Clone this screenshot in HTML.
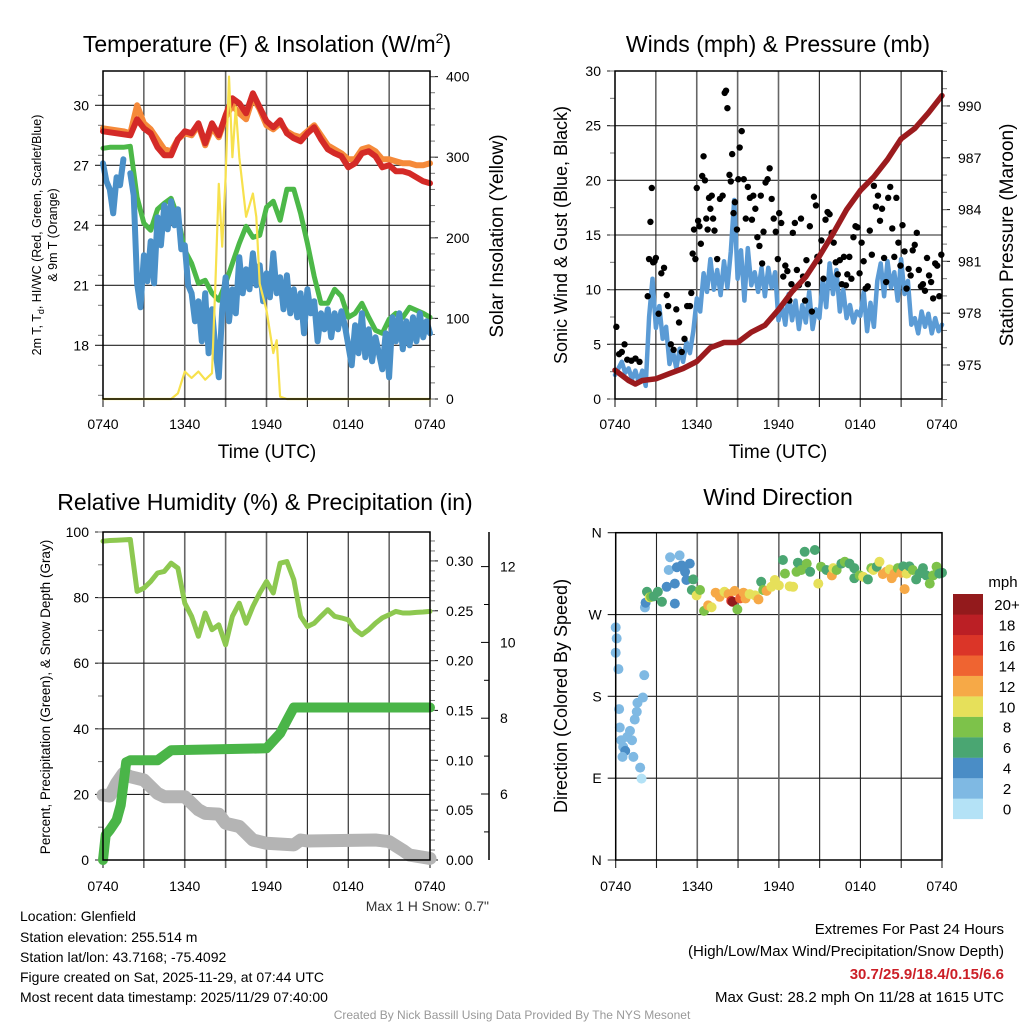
<!DOCTYPE html>
<html><head><meta charset="utf-8"><style>
html,body{margin:0;padding:0;background:#fff;}
svg{display:block;font-family:"Liberation Sans",Arial,sans-serif;}
</style></head><body>
<svg id="chart" width="1024" height="1024" viewBox="0 0 1024 1024" xmlns="http://www.w3.org/2000/svg">
<rect x="0" y="0" width="1024" height="1024" fill="#fff"/>
<text x="267" y="52" font-size="23" text-anchor="middle">Temperature (F) &amp; Insolation (W/m<tspan font-size="14" dy="-9">2</tspan><tspan dy="9">)</tspan></text>
<text x="778" y="52" font-size="23" text-anchor="middle">Winds (mph) &amp; Pressure (mb)</text>
<text x="265" y="510" font-size="23" text-anchor="middle">Relative Humidity (%) &amp; Precipitation (in)</text>
<text x="778" y="505" font-size="23" text-anchor="middle">Wind Direction</text>
<text x="267" y="458" font-size="19" text-anchor="middle">Time (UTC)</text>
<text x="778" y="458" font-size="19" text-anchor="middle">Time (UTC)</text>
<text transform="translate(41,235) rotate(-90)" font-size="12.5" text-anchor="middle">2m T, T<tspan font-size="9" dy="3">d</tspan><tspan dy="-3">, HI/WC (Red, Green, Scarlet/Blue)</tspan></text>
<text transform="translate(57,235) rotate(-90)" font-size="12.5" text-anchor="middle">&amp; 9m T (Orange)</text>
<text transform="translate(503,236) rotate(-90)" font-size="19" text-anchor="middle">Solar Insolation (Yellow)</text>
<text transform="translate(567,235) rotate(-90)" font-size="18" text-anchor="middle">Sonic Wind &amp; Gust (Blue, Black)</text>
<text transform="translate(1013,235) rotate(-90)" font-size="19" text-anchor="middle">Station Pressure (Maroon)</text>
<text transform="translate(50,697) rotate(-90)" font-size="13.5" text-anchor="middle">Percent, Precipitation (Green), &amp; Snow Depth (Gray)</text>
<text transform="translate(567,696) rotate(-90)" font-size="18" text-anchor="middle">Direction (Colored By Speed)</text>
<text x="489" y="911" font-size="14" text-anchor="end" fill="#333">Max 1 H Snow: 0.7"</text>
<g font-size="14">
<text x="20" y="921">Location: Glenfield</text>
<text x="20" y="942">Station elevation: 255.514 m</text>
<text x="20" y="962">Station lat/lon: 43.7168; -75.4092</text>
<text x="20" y="982">Figure created on Sat, 2025-11-29, at 07:44 UTC</text>
<text x="20" y="1002">Most recent data timestamp: 2025/11/29 07:40:00</text>
</g>
<g font-size="15" text-anchor="end">
<text x="1004" y="934">Extremes For Past 24 Hours</text>
<text x="1004" y="956">(High/Low/Max Wind/Precipitation/Snow Depth)</text>
<text x="1004" y="979" fill="#cc1f27" font-weight="bold">30.7/25.9/18.4/0.15/6.6</text>
<text x="1004" y="1002">Max Gust: 28.2 mph On 11/28 at 1615 UTC</text>
</g>
<text x="512" y="1019" font-size="12" fill="#999" text-anchor="middle">Created By Nick Bassill Using Data Provided By The NYS Mesonet</text>
</svg>
<script>
// ---------- DATA ----------
const timeLabels = ["0740","1340","1940","0140","0740"];
const halfHours = [0,0.5,1,1.5,2,2.5,3,3.5,4,4.5,5,5.5,6,6.5,7,7.5,8,8.5,9,9.5,10,10.5,11,11.5,12,12.5,13,13.5,14,14.5,15,15.5,16,16.5,17,17.5,18,18.5,19,19.5,20,20.5,21,21.5,22,22.5,23,23.5,24];
const quarterHours = Array.from({length:97},(_,i)=>i/4);
const temp2m = [28.7,28.65,28.6,28.55,28.5,29.3,28.85,28.6,27.9,27.5,27.5,28.3,28.7,28.6,29.1,28.1,29.1,28.5,29.5,30.35,30.1,29.6,30.6,29.9,29.2,28.9,29.25,28.6,28.35,28.2,28.6,28.9,28.3,27.8,27.6,27.45,26.9,27.1,27.6,27.7,27.45,26.9,27.0,26.7,26.7,26.6,26.4,26.2,26.1];
const temp9m = [28.85,28.8,28.75,28.7,28.6,30.0,29.1,28.8,28.3,27.8,27.7,28.3,28.6,28.5,29.0,28.0,28.9,28.4,29.4,30.0,29.6,29.3,30.4,29.8,29.0,28.8,29.1,28.7,28.5,28.4,28.7,29.0,28.5,28.0,27.8,27.6,27.3,27.3,27.8,27.9,27.7,27.3,27.3,27.2,27.1,27.1,27.0,27.0,27.1];
const dewpoint = [27.85,27.9,27.9,27.9,27.95,25.4,24.1,23.75,24.8,25.1,25.35,24.4,22.75,22.1,21.1,21.25,20.6,20.25,21.1,22.1,23.1,23.95,23.4,23.5,24.9,25.2,24.25,25.8,25.8,24.6,23.1,21.45,20.1,20.1,20.8,20.45,19.4,19.6,20.1,19.4,18.75,18.6,19.3,19.6,19.4,19.9,19.75,19.6,19.4];
const windChill = [27.1,26.2,25.8,24.6, 26.4,26.0,27.3,null, 26.6,25.5,21.1,19.9, 22.5,21.2,23.2,21.1, 24.4,23.0,25.0,23.8, 25.2,24.0,24.8,22.8, 23.0,21.0,20.6,19.2, 20.2,18.2,20.6,17.6, 19.8,17.8,16.4,19.8, 21.4,19.2,20.8,19.6, 22.4,20.6,21.8,20.8, 22.6,21.0,22.0,20.2, 21.6,20.4,22.6,20.6, 21.4,19.8,21.5,19.6, 20.8,19.4,20.6,18.6, 20.8,19.6,20.2,18.2, 19.6,18.8,19.8,18.4, 19.6,18.8,19.7,19.0, 18.0,17.0,19.0,17.6, 19.6,17.4,18.8,17.2, 18.4,17.6,16.8,18.6, 16.4,19.4,18.2,19.6, 17.8,19.2,18.0,19.4, 18.2,19.6,18.4,19.2, 18.6];
const solarTimes = [0,5,5.5,6,6.5,7,7.5,8,8.25,8.5,8.75,9,9.25,9.5,9.75,10,10.5,11,11.25,11.5,12,12.5,12.75,13,13.5,24];
const solarValues = [0,0,7,34,26,34,24,32,143,267,189,275,400,300,362,300,226,255,226,143,110,57,73,3,0,0];

const windSpeed = [2.2,2.8,3.4,2.4, 2.8,1.8,2.6,1.5, 2.6,1.2,7.5,11.0, 6.5,8.5,5.5,6.6, 3.2,4.4,2.8,4.6, 3.4,5.2,4.2,6.2, 9.2,8.0,11.5,9.8, 12.8,10.0,11.8,9.5, 12.6,10.2,13.5,18.2, 11.0,13.6,9.0,13.8, 10.4,11.6,9.8,12.0, 9.4,12.0,10.2,11.6, 7.2,8.6,6.8,9.6, 7.2,9.0,6.4,8.6, 7.0,9.8,6.4,8.2, 7.4,11.0,8.4,12.4, 9.6,11.8,8.0,10.0, 7.4,8.6,7.0,8.0, 7.6,9.8,6.2,8.8, 6.6,10.8,12.4,9.4, 12.6,10.2,11.6,9.0, 12.8,9.6,10.8,6.8, 7.4,6.0,8.0,6.6, 7.8,6.0,7.4,6.2, 6.8];
const gustTimes = [0.1,0.3,0.5,0.7,0.9,1.2,1.5,1.8,2.4,2.5,2.6,2.7,2.8,2.9,3.0,3.2,3.4,3.6,3.8,3.9,4.1,4.3,4.5,4.7,4.9,5.1,5.3,5.5,5.6,5.7,5.8,5.9,6.0,6.1,6.2,6.3,6.4,6.5,6.6,6.7,6.8,6.9,7.0,7.1,7.2,7.3,7.5,7.7,7.9,8.05,8.15,8.25,8.4,8.5,8.6,8.7,8.8,8.95,9.05,9.15,9.3,9.45,9.6,9.75,9.9,10.05,10.15,10.3,10.45,10.6,10.7,10.8,10.9,11.05,11.2,11.35,11.5,11.65,11.8,11.95,12.05,12.2,12.35,12.5,12.65,12.8,12.95,13.05,13.2,13.35,13.5,13.65,13.8,13.95,14.05,14.15,14.3,14.45,14.6,14.75,14.85,15.0,15.15,15.3,15.45,15.6,15.75,15.9,16.05,16.2,16.35,16.5,16.65,16.8,16.95,17.05,17.2,17.35,17.5,17.65,17.8,17.95,18.1,18.25,18.4,18.55,18.7,18.85,19.0,19.15,19.3,19.45,19.6,19.75,19.9,20.05,20.2,20.35,20.5,20.65,20.8,20.95,21.1,21.25,21.4,21.55,21.7,21.85,22.0,22.15,22.3,22.45,22.6,22.75,22.9,23.05,23.2,23.35,23.5,23.65,23.8,23.95];
const gustValues = [6.6,4.1,4.3,5.0,3.6,3.5,3.7,3.4,9.4,12.8,16.2,19.3,12.5,12.6,12.9,7.8,11.5,12.0,9.5,8.5,5.0,4.5,8.2,7.0,4.3,5.5,8.5,8.5,9.7,13.3,15.5,12.8,19.3,16.3,15.8,14.2,20.4,22.2,20.0,16.5,15.5,18.4,17.4,18.6,16.5,15.4,12.8,18.3,18.6,28.0,28.2,26.6,20.5,19.9,22.4,17.0,18.0,15.5,20.1,23.0,24.5,20.1,16.5,19.4,18.4,16.4,18.6,17.4,14.8,14.0,18.6,12.4,15.3,19.8,20.1,21.1,18.3,16.5,15.3,12.8,17.0,16.1,11.2,12.2,11.7,9.0,10.5,15.2,16.1,11.8,10.4,16.5,11.2,9.0,12.7,10.5,15.8,8.0,18.5,17.7,13.0,12.6,14.5,11.0,16.4,17.1,16.9,15.2,14.3,12.5,11.4,12.7,10.5,13.0,10.4,11.4,13.0,11.0,14.8,15.8,15.7,11.5,14.3,12.6,10.1,10.3,15.4,13.2,19.5,17.6,18.6,16.3,17.4,12.9,10.7,18.4,19.4,15.6,13.0,18.4,14.3,12.2,15.9,13.5,10.1,11.9,11.3,13.6,14.1,15.2,11.8,10.3,10.5,9.9,12.9,11.3,10.7,9.2,12.4,12.2,9.4,13.2,10.0,11.0,9.9];
const pressTimes = [0,1,1.5,2,3,4,5,6,7,8,9,10,11,12,13,14,15,16,17,18,19,20,21,22,23,24];
const pressValues = [974.7,974.1,973.9,974.1,974.2,974.5,974.8,975.2,976.0,976.3,976.3,976.9,977.3,978.2,979.25,980.1,981.3,982.6,984.0,985.1,985.9,986.9,988.1,988.7,989.6,990.6];

const rhValues = [97.2,97.4,97.5,97.6,97.7,81.9,82.9,84.9,87.5,88.0,90.5,89.0,78.3,74.3,68.2,75.3,70.2,71.7,65.6,74.3,78.3,72.2,77.3,81.4,84.9,81.4,90.5,91.0,85.5,74.3,71.2,72.2,74.3,76.3,74.3,73.8,73.2,70.2,68.7,70.2,72.2,73.8,74.8,75.8,75.3,75.3,75.5,75.6,75.8];
const precipTimes = [0,0.1,0.2,0.5,1.0,1.3,1.7,2,3,4,4.5,5,12,13,13.5,14,24];
const precipValues = [0,0.013,0.025,0.03,0.04,0.055,0.098,0.1,0.1,0.1,0.105,0.11,0.112,0.127,0.14,0.153,0.153];
const snowTimes = [0,0.5,1,1.5,2,3,4,4.5,6,7,7.5,8.5,9,10,11,12,14,14.5,15,20,21,22,22.5,24];
const snowValues = [19.8,19.5,23.4,26.4,25.4,24.4,20.3,19.3,19.3,15.3,14.2,14.0,11.2,10.2,6.1,5.1,4.6,6.1,5.8,6.1,5.6,3.0,1.5,0.5];

const dirTimes = [0,0.07,0,0.2,0.25,0.3,0.4,0.55,0.7,0.5,0.85,1.05,1.2,1.3,1.4,1.55,1.6,1.8,1.9,2.0,2.1,2.15,2.2,2.3,2.5,2.6,2.8,3.1,3.4,3.75,3.9,4.0,4.35,4.35,4.5,4.7,4.85,5.1,5.2,5.45,5.6,5.7,5.95,6.2,6.5,6.8,7.05,7.35,7.65,8.0,8.3,8.5,8.6,8.75,8.95,9.15,9.4,9.55,9.85,10.25,10.5,10.7,10.85,11.1,11.45,11.7,12.0,12.3,12.45,12.8,13.05,13.3,13.4,13.65,13.9,14.05,14.3,14.65,14.9,15.1,15.5,15.9,16.0,16.25,16.6,16.85,17.2,17.55,17.55,17.95,18.2,18.55,18.8,18.95,19.2,19.4,19.65,19.9,20.15,20.3,20.5,20.75,21.0,21.15,21.25,21.4,21.6,21.85,22.1,22.35,22.6,22.85,23.1,23.35,23.6,23.8,24];
const dirValues = [255.8,243.7,228,210,166,145.7,131.7,124.4,120,113.4,135.4,142,131.7,113.4,154.5,163,172.8,101.6,89.5,178.7,203.3,277.8,283,295,288.8,289.5,290,295,284,300.5,319,333,282,304,322,335,324,317,308,326,297,308.6,291,297,274,280,278,294,289.5,295,292.5,285,284,296,275.6,287.7,294,287.7,292.5,291,286.6,306,297,296,300.5,308,302,330,315,301,300.5,317,327,319,339,326,317,341,304,322.6,319,313,321,319,326,328,326,321,310,313,311.6,308.6,321,319,322.6,328,314.5,317,319.6,310,315,321,316,323,298,315,323,319,308.6,315,321,313,304,313,322.6,315,316];
const dirSpeeds = [2,2,2,2,2,2,2,2,4.5,2,2,2,2,2,2,2,2,2,1,2,2,2,4,6,10,8,6,6,6,4,2,2,4,4,4,2,4,4,4.5,4,6,6,10,8,8,12,10,12,12,10,12,16,20,12,8,14,12,12,10,10,12,6,8,12,10,10,10,6,8,10,10,8,6,8,6,8,6,6,10,8,6,12,10,8,6,8,6,6,6,8,10,6,8,10,6,10,12,12,10,12,12,8,12,6,12,10,6,8,6,6,6,6,8,8,8,6,6];
const speedBins = ["0","2","4","6","8","10","12","14","16","18","20+"];
const binColors = ["#b4e2f6","#7fb9e3","#4a8dc6","#4aa672","#7dc24a","#e6e05a","#f6a947","#ef6431","#db3528","#bb1f25","#931a1c"];

// ---------- DRAW ----------
const NS="http://www.w3.org/2000/svg";
const svg=document.getElementById('chart');
function mk(tag,attrs,name,parent){
  const el=document.createElementNS(NS,tag);
  for(const k in attrs) el.setAttribute(k,attrs[k]);
  
  
  (parent||svg).appendChild(el);
  return el;
}
function txt(x,y,s,size,anchor,name,parent){
  const t=mk('text',{x:x,y:y,'font-size':size,'text-anchor':anchor},name,parent);
  t.textContent=s; return t;
}
function panel(P,name){
  const g=mk('g',{},name);
  P.g=g;
  P.x=t=>P.x0+t/24*(P.x1-P.x0);
  return g;
}
function vgrid(P,labelY){
  for(let h=0;h<=24;h+=3){
    const x=P.x(h);
    mk('line',{x1:x,x2:x,y1:P.y0,y2:P.y1+8,stroke:(h>=6&&h<=12)?'#666':'#222','stroke-width':(h>=6&&h<=12)?1.6:1.1},'time-gridline',P.g);
    if(h%6===0) txt(x,labelY,timeLabels[h/6],14,'middle','time-tick-label',P.g);
  }
}
function hgrid(P,vals,yf,labs,side,minorStep,lo,hi,name){
  for(let i=0;i<vals.length;i++){
    const y=yf(vals[i]);
    if(side==='left'){
      mk('line',{x1:P.x0-8,x2:P.x1,y1:y,y2:y,stroke:'#222','stroke-width':1.1},name+'-gridline',P.g);
      txt(P.x0-14,y+5,labs[i],14,'end',name+'-tick-label',P.g);
    } else {
      mk('line',{x1:P.x1,x2:P.x1+8,y1:y,y2:y,stroke:'#222','stroke-width':1.1},name+'-tick',P.g);
      txt(P.x1+16,y+5,labs[i],14,'start',name+'-tick-label',P.g);
    }
  }
  if(minorStep){
    for(let v=lo;v<=hi+1e-9;v+=minorStep){
      const y=yf(v); if(y<P.y0-1||y>P.y1+1) continue;
      if(side==='left') mk('line',{x1:P.x0-5,x2:P.x0,y1:y,y2:y,stroke:'#777','stroke-width':1},name+'-minor-tick',P.g);
      else mk('line',{x1:P.x1,x2:P.x1+5,y1:y,y2:y,stroke:'#777','stroke-width':1},name+'-minor-tick',P.g);
    }
  }
}
function frame(P){
  mk('rect',{x:P.x0,y:P.y0,width:P.x1-P.x0,height:P.y1-P.y0,fill:'none',stroke:'#000','stroke-width':1.5},'plot-frame',P.g);
}
function line(P,ts,vs,yf,color,w,name){
  let segs=[],cur=[];
  for(let i=0;i<ts.length;i++){
    if(vs[i]===null){ if(cur.length) segs.push(cur); cur=[]; continue; }
    cur.push(P.x(ts[i]).toFixed(1)+','+yf(vs[i]).toFixed(1));
  }
  if(cur.length) segs.push(cur);
  segs.forEach(s=>mk('polyline',{points:s.join(' '),fill:'none',stroke:color,'stroke-width':w,'stroke-linejoin':'round','stroke-linecap':'round'},name,P.g));
}

// Panel 1: Temperature
const P1={x0:103,x1:430,y0:71,y1:399};
panel(P1,'temperature-panel');
const yT=v=>105.3+(30-v)*20;
const yS=v=>399-v*0.806;
hgrid(P1,[18,21,24,27,30],yT,["18","21","24","27","30"],'left',1.5,15.5,31.5,'temp-axis');
vgrid(P1,429);
hgrid(P1,[0,100,200,300,400],yS,["0","100","200","300","400"],'right',20,0,400,'solar-axis');
line(P1,halfHours,temp9m,yT,'#f58a3a',6,'temp-9m-line');
line(P1,halfHours,temp2m,yT,'#d42a27',6,'temp-2m-line');
line(P1,halfHours,dewpoint,yT,'#4cb848',5,'dewpoint-line');
line(P1,quarterHours,windChill,yT,'#4a90c8',6,'wind-chill-line');
line(P1,solarTimes,solarValues,yS,'#f7e14d',2.2,'solar-line');
frame(P1);

// Panel 2: Winds
const P2={x0:615,x1:942,y0:71,y1:399};
panel(P2,'wind-panel');
const yW=v=>399-v*328/30;
const yP=v=>365-(v-975)*17.27;
hgrid(P2,[0,5,10,15,20,25,30],yW,["0","5","10","15","20","25","30"],'left',2.5,0,30,'wind-axis');
vgrid(P2,429);
hgrid(P2,[975,978,981,984,987,990],yP,["975","978","981","984","987","990"],'right',1,973,992,'pressure-axis');
line(P2,quarterHours,windSpeed,yW,'#5b9bd5',4.5,'wind-speed-line');
for(let i=0;i<gustTimes.length;i++){
  mk('circle',{cx:P2.x(gustTimes[i]),cy:yW(gustValues[i]),r:3.2,fill:'#000'},'gust-point',P2.g);
}
line(P2,pressTimes,pressValues,yP,'#9b1b1e',5.5,'pressure-line');
frame(P2);

// Panel 3: RH & precip
const P3={x0:103,x1:430,y0:532,y1:860};
panel(P3,'humidity-panel');
const yR=v=>860-v*3.28;
const yPr=v=>860-v*997;
hgrid(P3,[0,20,40,60,80,100],yR,["0","20","40","60","80","100"],'left',10,0,100,'percent-axis');
vgrid(P3,891);
hgrid(P3,[0,0.05,0.1,0.15,0.2,0.25,0.3],yPr,["0.00","0.05","0.10","0.15","0.20","0.25","0.30"],'right',0.01,0,0.32,'precip-axis');
const ySn=v=>794-(v-6)*37.9;
mk('line',{x1:489,x2:489,y1:532,y2:860,stroke:'#000','stroke-width':1.5},'snow-axis-line',P3.g);
for(let v=5;v<=13;v+=1){
  const y=ySn(v); if(y<532||y>860) continue;
  mk('line',{x1:v%2===0?481:484,x2:489,y1:y,y2:y,stroke:'#000','stroke-width':1},'snow-axis-tick',P3.g);
  if(v%2===0) txt(500,y+5,String(v),14,'start','snow-axis-tick-label',P3.g);
}
line(P3,snowTimes,snowValues,yR,'#b4b4b4',13,'snow-depth-line');
line(P3,precipTimes,precipValues,yPr,'#4ab548',10,'precip-line');
line(P3,halfHours,rhValues,yR,'#8dc850',5,'rh-line');
frame(P3);

// Panel 4: Wind direction
const P4={x0:615.7,x1:942,y0:532.7,y1:860};
panel(P4,'direction-panel');
const yD=d=>532.7+(360-d)/360*327.3;
hgrid(P4,[360,270,180,90,0],yD,["N","W","S","E","N"],'left',0,0,0,'direction-axis');
vgrid(P4,891);
function binOf(s){return Math.min(10,Math.floor(s/2));}
for(let i=0;i<dirTimes.length;i++){
  mk('circle',{cx:P4.x(dirTimes[i]),cy:yD(dirValues[i]),r:5,fill:binColors[binOf(dirSpeeds[i])]},'direction-point',P4.g);
}
frame(P4);
const cb=mk('g',{},'speed-colorbar');
txt(1003,587,'mph',15,'middle','colorbar-title',cb);
for(let i=0;i<speedBins.length;i++){
  const y=594+(10-i)*20.45;
  mk('rect',{x:953,y:y,width:30,height:20.6,fill:binColors[i]},'colorbar-bin',cb);
  txt(1007,y+16,speedBins[i],15,'middle','colorbar-label',cb);
}
</script>
</body></html>
